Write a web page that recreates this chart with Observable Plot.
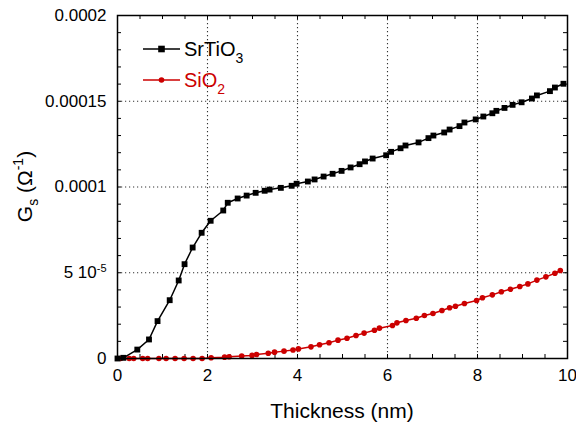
<!DOCTYPE html>
<html><head><meta charset="utf-8">
<script src="https://cdn.jsdelivr.net/npm/d3@7"></script>
<script src="https://cdn.jsdelivr.net/npm/@observablehq/plot@0.6"></script>
<style>body{margin:0;background:#fff;font-family:Arial,"Liberation Sans",sans-serif}</style>
</head><body><div id="chart"></div>
<script>
const srtioX = [0,0.13,0.44,0.70,0.89,1.16,1.36,1.49,1.67,1.87,2.07,2.35,2.45,2.67,2.87,3.07,3.27,3.38,3.63,3.87,3.98,4.23,4.38,4.58,4.78,4.98,5.18,5.38,5.50,5.67,5.97,6.08,6.29,6.40,6.69,6.91,7.02,7.26,7.38,7.60,7.71,7.96,8.13,8.33,8.42,8.60,8.78,8.98,9.21,9.32,9.61,9.72,9.91];
const srtioY = [0,0.4e-6,5.2e-6,11.1e-6,21.8e-6,34.0e-6,45.5e-6,55.0e-6,64.7e-6,73.3e-6,80.3e-6,86.3e-6,90.8e-6,93.3e-6,95.0e-6,96.6e-6,97.8e-6,98.5e-6,99.5e-6,100.7e-6,101.9e-6,103.2e-6,104.4e-6,106.1e-6,107.7e-6,109.4e-6,111.4e-6,113.3e-6,114.9e-6,116.6e-6,118.5e-6,120.5e-6,122.6e-6,124.2e-6,126.0e-6,128.5e-6,130.0e-6,131.8e-6,133.5e-6,135.5e-6,137.6e-6,139.4e-6,141.1e-6,143.0e-6,144.4e-6,146.1e-6,147.9e-6,149.4e-6,151.6e-6,153.4e-6,155.9e-6,158.0e-6,160.2e-6];
const sio2X = [0.07,0.26,0.36,0.56,0.67,0.92,1.08,1.28,1.48,1.68,1.88,2.08,2.38,2.48,2.76,2.99,3.09,3.35,3.49,3.70,3.90,4.02,4.30,4.49,4.70,4.90,5.10,5.30,5.48,5.71,5.82,6.11,6.21,6.41,6.64,6.82,7.01,7.21,7.38,7.51,7.71,7.98,8.11,8.33,8.53,8.73,8.94,9.12,9.32,9.52,9.72,9.84];
const sio2Y = [0,0,0,0,0,0,0,0,0,0,0,0.4e-6,0.8e-6,1.0e-6,1.4e-6,1.8e-6,2.3e-6,3.1e-6,3.7e-6,4.3e-6,5.0e-6,5.6e-6,6.8e-6,8.0e-6,9.2e-6,10.7e-6,11.8e-6,13.4e-6,14.8e-6,16.5e-6,17.7e-6,19.2e-6,20.8e-6,22.2e-6,23.5e-6,25.1e-6,26.2e-6,28.0e-6,29.6e-6,30.5e-6,32.1e-6,33.8e-6,35.4e-6,37.1e-6,38.9e-6,40.4e-6,42.0e-6,43.5e-6,45.7e-6,47.6e-6,49.7e-6,51.3e-6];
const seriesNames = ["SrTiO", "SiO"];
const seriesSubs = ["3", "2"];
const seriesColors = ["#000000", "#cc0000"];
const xTicks = [0,2,4,6,8,10];
const yTicks = [0,5e-5,1e-4,1.5e-4,2e-4];
const yTickLabels = ["0","5 10","0.0001","0.00015","0.0002"];
const xMinor = d3.range(0, 10.01, 0.5);
const yMinor = d3.range(0, 2.01e-4, 1e-5);

const srtio = srtioX.map((x,i)=>({x, y: srtioY[i]}));
const sio2 = sio2X.map((x,i)=>({x, y: sio2Y[i]}));

const W = 576, H = 423, mL = 117, mR = 9, mT = 15, mB = 65;
const ph = H - mT - mB, pw = W - mL - mR;

const chart = Plot.plot({
  width: W, height: H,
  marginLeft: mL, marginRight: mR, marginTop: mT, marginBottom: mB,
  style: {fontFamily: "Arial, 'Liberation Sans', sans-serif", background: "#fff"},
  x: {domain: [0,10], label: null},
  y: {domain: [0,2e-4], label: null},
  marks: [
    Plot.gridX(xTicks.slice(1,-1), {stroke: "#333", strokeOpacity: 1, strokeDasharray: "1.2,2.8", strokeWidth: 1.1}),
    Plot.gridY(yTicks.slice(1,-1), {stroke: "#333", strokeOpacity: 1, strokeDasharray: "1.2,2.8", strokeWidth: 1.1}),
    Plot.tickX(xMinor, {x: d=>d, insetTop: ph - 4, stroke: "#000", strokeWidth: 1}),
    Plot.tickX(xMinor, {x: d=>d, insetBottom: ph - 4, stroke: "#000", strokeWidth: 1}),
    Plot.tickY(yMinor, {y: d=>d, insetRight: pw - 4, stroke: "#000", strokeWidth: 1}),
    Plot.tickY(yMinor, {y: d=>d, insetLeft: pw - 4, stroke: "#000", strokeWidth: 1}),
    Plot.axisX({ticks: xTicks, tickSize: 0, tickPadding: 10, fontSize: 17, tickFormat: d=>String(d)}),
    Plot.axisY({ticks: yTicks, tickSize: 0, tickPadding: 11, fontSize: 17, tickFormat: (d,i)=>yTickLabels[yTicks.indexOf(d)]}),
    Plot.line(sio2, {x: "x", y: "y", stroke: seriesColors[1], strokeWidth: 1.5}),
    Plot.dot(sio2, {x: "x", y: "y", fill: seriesColors[1], r: 2.8, stroke: "none"}),
    Plot.line(srtio, {x: "x", y: "y", stroke: seriesColors[0], strokeWidth: 1.5}),
    Plot.dot(srtio, {x: "x", y: "y", fill: seriesColors[0], symbol: "square", r: 3.3, stroke: "none"}),
    Plot.frame({stroke: "#000", strokeWidth: 1.5})
  ]
});
document.getElementById("chart").appendChild(chart);

const svg = d3.select(chart);
svg.selectAll("text").each(function(){
  const t = d3.select(this);
  if (t.text() === "5 10") {
    t.append("tspan").attr("dy", "-0.55em").attr("font-size", 11).text("-5");
  }
});
svg.append("text").attr("x", mL + pw/2).attr("y", 418).attr("text-anchor","middle")
  .attr("font-size", 21).attr("fill","#000").text("Thickness (nm)");
const yl = svg.append("text").attr("transform", `translate(32,${mT + ph/2}) rotate(-90)`)
  .attr("text-anchor","middle").attr("font-size", 21).attr("fill","#000");
yl.append("tspan").text("G");
yl.append("tspan").attr("font-size", 14).attr("dy", 6).text("s");
yl.append("tspan").attr("dy", -6).text(" (Ω");
yl.append("tspan").attr("font-size", 14).attr("dy", -9).text("-1");
yl.append("tspan").attr("dy", 9).text(")");
const lg = svg.append("g");
[0,1].forEach(i=>{
  const y = 49 + i*31;
  lg.append("line").attr("x1",143).attr("x2",180).attr("y1",y).attr("y2",y)
    .attr("stroke",seriesColors[i]).attr("stroke-width",1.6);
  if (i===0) lg.append("rect").attr("x",161.5-3.3).attr("y",y-3.3).attr("width",6.6).attr("height",6.6).attr("fill",seriesColors[i]);
  else lg.append("circle").attr("cx",161.5).attr("cy",y).attr("r",2.8).attr("fill",seriesColors[i]);
  const t = lg.append("text").attr("x",184).attr("y",y+7).attr("text-anchor","start").attr("font-size",20).attr("fill",seriesColors[i]);
  t.append("tspan").text(seriesNames[i]);
  t.append("tspan").attr("font-size",14).attr("dy",7).text(seriesSubs[i]);
});
</script></body></html>
